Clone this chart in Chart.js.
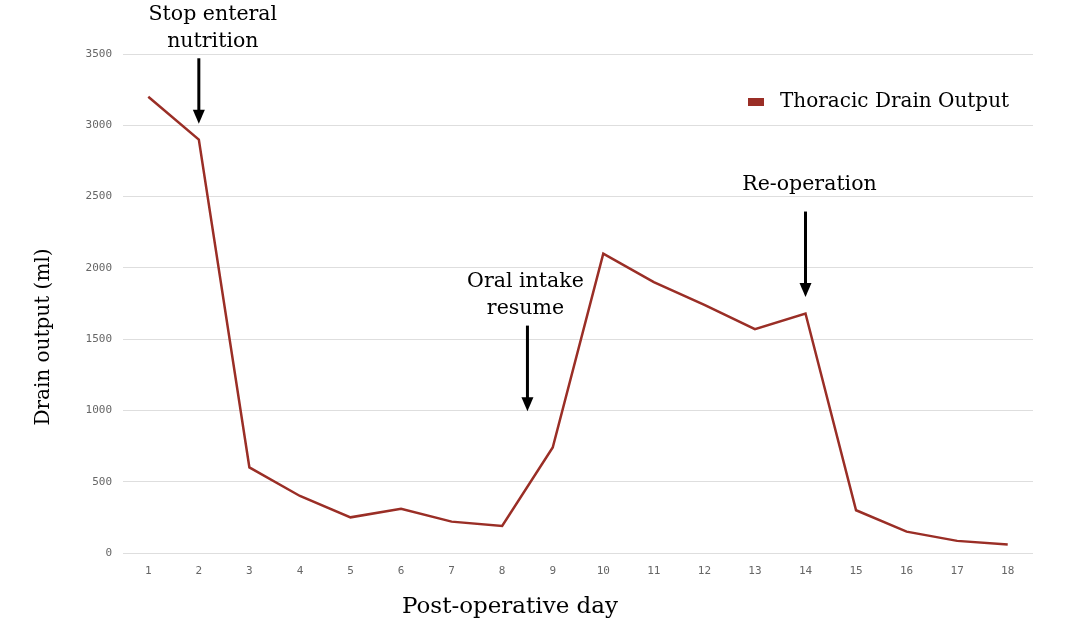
<!DOCTYPE html>
<html>
<head>
<meta charset="utf-8">
<script src="https://cdn.jsdelivr.net/npm/chart.js@4.4.0/dist/chart.umd.min.js"></script>
<style>
  html, body { margin: 0; padding: 0; background: #fff; }
  #wrap { width: 1086px; height: 637px; position: relative; }
</style>
</head>
<body>
<div id="wrap"><canvas id="drainChart"></canvas></div>
<script>
// data
const days = ['1','2','3','4','5','6','7','8','9','10','11','12','13','14','15','16','17','18'];
const drainOutput = [3200, 2900, 600, 400, 250, 310, 220, 190, 740, 2100, 1900, 1740, 1570, 1680, 300, 150, 85, 60];
const yTicks = [0, 500, 1000, 1500, 2000, 2500, 3000, 3500];

// annotations: text lines, day index (fractional ok), arrow top value, arrow tip value
const notes = [
  { lines: ['Stop enteral', 'nutrition'], at: 1, from: 3470, to: 3010, dx: 14, gap: 6 },
  { lines: ['Oral intake', 'resume'], at: 7.5, from: 1595, to: 995, dx: -2, gap: 7 },
  { lines: ['Re-operation'], at: 13, from: 2395, to: 1795, dx: 4, gap: 17 }
];

const serif = '"DejaVu Serif", "Liberation Serif", serif';
const mono = '"DejaVu Sans Mono", monospace';
const lineColor = '#9a2e26';

// arrows + labels
const notesPlugin = {
  id: 'notes',
  afterDatasetsDraw(chart) {
    const { ctx, scales: { x, y } } = chart;
    ctx.save();
    notes.forEach(n => {
      const px = x.getPixelForValue(n.at);
      const y0 = y.getPixelForValue(n.from);
      const y1 = y.getPixelForValue(n.to);
      ctx.strokeStyle = '#000';
      ctx.fillStyle = '#000';
      ctx.lineWidth = 3;
      ctx.beginPath();
      ctx.moveTo(px, y0);
      ctx.lineTo(px, y1 - 12);
      ctx.stroke();
      ctx.beginPath();
      ctx.moveTo(px - 6, y1 - 14);
      ctx.lineTo(px + 6, y1 - 14);
      ctx.lineTo(px, y1);
      ctx.closePath();
      ctx.fill();
      ctx.font = '20.5px ' + serif;
      ctx.textAlign = 'center';
      ctx.textBaseline = 'bottom';
      const lh = 27;
      n.lines.forEach((t, i) => {
        ctx.fillText(t, px + n.dx, y0 - n.gap - (n.lines.length - 1 - i) * lh);
      });
    });
    ctx.restore();
  }
};

// legend inside the plot + axis titles
const extrasPlugin = {
  id: 'extras',
  afterDraw(chart) {
    const { ctx } = chart;
    const ds = chart.data.datasets[0];
    ctx.save();
    ctx.fillStyle = ds.borderColor;
    ctx.fillRect(748, 98, 16, 8);
    ctx.fillStyle = '#000';
    ctx.font = '20px ' + serif;
    ctx.textAlign = 'left';
    ctx.textBaseline = 'middle';
    ctx.fillText(ds.label, 780, 102);

    ctx.textAlign = 'center';
    ctx.font = '23px ' + serif;
    ctx.fillText('Post-operative day', 510, 607);

    ctx.translate(44, 337);
    ctx.rotate(-Math.PI / 2);
    ctx.font = '20px ' + serif;
    ctx.fillText('Drain output (ml)', 0, 0);
    ctx.restore();
  }
};

const ctx = document.getElementById('drainChart').getContext('2d');
const chart = new Chart(ctx, {
  type: 'line',
  data: {
    labels: days,
    datasets: [{
      label: 'Thoracic Drain Output',
      data: drainOutput,
      borderColor: lineColor,
      backgroundColor: lineColor,
      borderWidth: 2.5,
      tension: 0,
      pointRadius: 0,
      fill: false
    }]
  },
  options: {
    responsive: true,
    maintainAspectRatio: false,
    animation: false,
    layout: { padding: { top: 54, right: 53, left: 0, bottom: 0 } },
    plugins: { legend: { display: false }, tooltip: { enabled: false } },
    scales: {
      x: {
        offset: true,
        grid: { display: false },
        border: { display: false },
        ticks: { color: '#666', font: { family: mono, size: 11 }, padding: 4, maxRotation: 0 },
        afterFit(s) { s.height = 84; }
      },
      y: {
        min: 0,
        max: 3500,
        afterBuildTicks(s) { s.ticks = yTicks.map(v => ({ value: v })); },
        grid: { color: '#dedede', lineWidth: 1, drawTicks: false },
        border: { display: false },
        ticks: { color: '#666', font: { family: mono, size: 11 }, padding: 11, callback: v => String(v) },
        afterFit(s) { s.width = 123; }
      }
    }
  },
  plugins: [notesPlugin, extrasPlugin]
});
</script>
</body>
</html>
